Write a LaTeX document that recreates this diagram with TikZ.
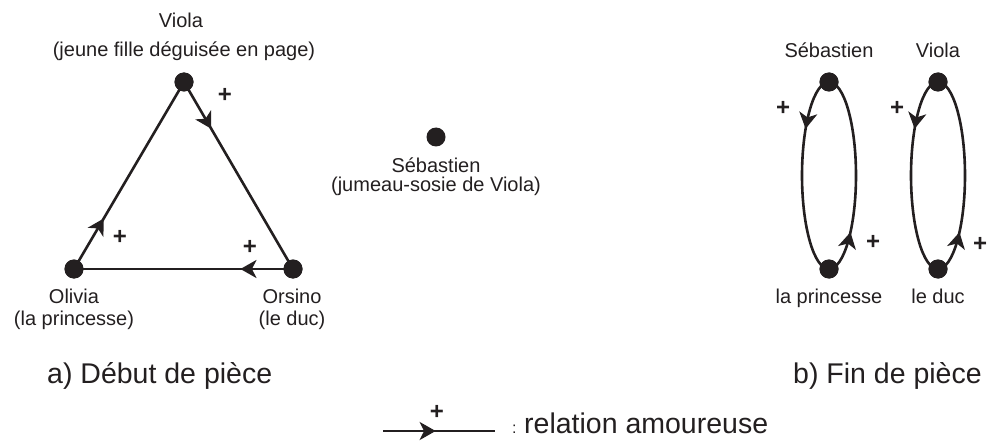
\documentclass[tikz,border=0pt]{standalone}
\usepackage{fontspec}
\setmainfont{Liberation Sans}
\usetikzlibrary{arrows.meta,decorations.markings}
\definecolor{ink}{HTML}{231F20}
\begin{document}
\begin{tikzpicture}[x=1pt,y=-1pt,
 dot/.style={circle,fill=ink,inner sep=0pt,minimum size=19pt},
 lbl/.style={anchor=base,font=\fontsize{20}{24}\selectfont,text=ink,inner sep=0pt},
 big/.style={anchor=base west,font=\fontsize{28.5}{33}\selectfont,text=ink,inner sep=0pt},
 plus/.style={font=\bfseries\fontsize{24}{28}\selectfont,text=ink,inner sep=0pt},
 rel/.style={draw=ink,line width=2.6pt,postaction={decorate},
   decoration={markings,mark=at position #1 with {\arrow[ink]{Stealth[length=16pt,width=18pt,inset=4.5pt]}}}},
]
\useasboundingbox (0,0) rectangle (988,441);
% part a
\node[dot] (vio) at (184,82) {};
\node[dot] (oli) at (74,269) {};
\node[dot] (ors) at (293,269) {};
\node[dot] (seb) at (436,137) {};
\draw[rel=0.25] (vio.center) -- (ors.center);
\draw[rel=0.27] (oli.center) -- (vio.center);
\draw[rel=0.24] (ors.center) -- (oli.center);
\node[dot] at (vio) {};\node[dot] at (oli) {};\node[dot] at (ors) {};
\node[lbl] (tvio1) at (181,28) {Viola};
\node[lbl] (tvio2) at (184,57) {(jeune fille déguisée en page)};
\node[lbl] (toli1) at (74,303) {Olivia};
\node[lbl] (toli2) at (74,325) {(la princesse)};
\node[lbl] (tors1) at (292,303) {Orsino};
\node[lbl] (tors2) at (292,325) {(le duc)};
\node[lbl] (tseb1) at (436,172) {Sébastien};
\node[lbl] (tseb2) at (436,191) {(jumeau-sosie de Viola)};
\node[plus] (p1) at (225,95) {+};
\node[plus] (p2) at (120,237) {+};
\node[plus] (p3) at (250,247) {+};
\node[big] (ta) at (47,383) {a) Début de pièce};
% part b
\node[dot] (sebb) at (829,82) {};
\node[dot] (pri) at (829,269) {};
\node[dot] (viob) at (938,82) {};
\node[dot] (duc) at (938,269) {};
\draw[rel=0.27] (sebb.center) arc[start angle=270,end angle=90,x radius=27,y radius=93.5];
\draw[rel=0.22] (pri.center) arc[start angle=90,end angle=-90,x radius=27,y radius=93.5];
\draw[rel=0.27] (viob.center) arc[start angle=270,end angle=90,x radius=27,y radius=93.5];
\draw[rel=0.22] (duc.center) arc[start angle=90,end angle=-90,x radius=27,y radius=93.5];
\node[dot] at (sebb) {};\node[dot] at (pri) {};\node[dot] at (viob) {};\node[dot] at (duc) {};
\node[lbl] (tsebb) at (829,58) {Sébastien};
\node[lbl] (tviob) at (938,58) {Viola};
\node[lbl] (tpri) at (829,303) {la princesse};
\node[lbl] (tduc) at (938,303) {le duc};
\node[plus] (p4) at (783,108) {+};
\node[plus] (p5) at (873,242) {+};
\node[plus] (p6) at (897,108) {+};
\node[plus] (p7) at (980,244) {+};
\node[big] (tb) at (793,383) {b) Fin de pièce};
% legend
\coordinate (la) at (383,431);
\coordinate (lb) at (495,431);
\draw[rel=0.47] (la) -- (lb);
\node[plus] (pl) at (437,412) {+};
\node[anchor=base west,font=\fontsize{16}{18}\selectfont,text=ink,inner sep=0pt] (colon) at (512,433) {:};
\node[big] (tleg) at (524,433) {relation amoureuse};
\end{tikzpicture}
\end{document}
